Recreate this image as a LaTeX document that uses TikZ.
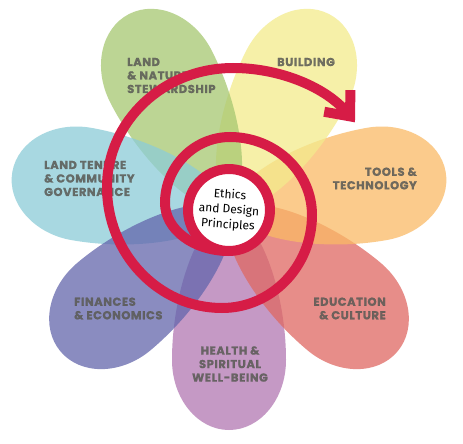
\documentclass[tikz,border=0pt]{standalone}
\usepackage{fontspec}
\usepackage{xcolor}
\usepackage{tikz}
\usetikzlibrary{positioning}
\usetikzlibrary{arrows.meta}
\newfontfamily\labelfont{Poppins}[LetterSpace=5, BoldFeatures={FakeBold=1.2}]
\newfontfamily\handfont{Fira Sans}
\definecolor{petalgreen}{RGB}{166,199,113}
\definecolor{petalyellow}{RGB}{243,235,140}
\definecolor{petalorange}{RGB}{250,186,102}
\definecolor{petalred}{RGB}{223,104,98}
\definecolor{petalpink}{RGB}{178,120,178}
\definecolor{petalviolet}{RGB}{99,102,172}
\definecolor{petalblue}{RGB}{140,204,215}
\definecolor{spiralred}{RGB}{214,28,70}
\definecolor{labelgray}{RGB}{90,90,85}
\pgfdeclarelayer{petallayer}
\pgfsetlayers{petallayer,main}
\newcommand{\petalpath}{(0,0) .. controls (8,-30) and (80,-57) .. (150,-57) arc[start angle=-90, end angle=90, x radius=70pt, y radius=57pt] .. controls (80,57) and (8,30) .. (0,0) -- cycle}
\tikzset{
    petal/.style = {fill opacity=0.75, draw=none},
    petaltext/.style = {inner sep=0pt, text=labelgray, text opacity=0.85, font=\labelfont\bfseries\fontsize{11.5}{13.5}\selectfont},
    spiral/.style = {draw=spiralred, line width=10pt},
    centre/.style = {circle, draw=spiralred, line width=10pt, fill=white, minimum size=82pt, inner sep=0pt, align=center, font=\handfont\fontsize{12}{15}\selectfont}
}

\begin{document}
\begin{tikzpicture}[x=1pt, y=1pt]
    \useasboundingbox (0,0) rectangle (463,-444);
    \begin{pgfonlayer}{petallayer}
        \fill [white] (0,0) rectangle (463,-444);
        \fill [petal, fill=petalpink, shift={(229,-210)}, rotate=270] \petalpath;
        \fill [petal, fill=petalred, shift={(229,-210)}, rotate=320] \petalpath;
        \fill [petal, fill=petalorange, shift={(229,-210)}, rotate=10] \petalpath;
        \fill [petal, fill=petalyellow, shift={(229,-210)}, rotate=63] \petalpath;
        \fill [petal, fill=petalgreen, shift={(229,-210)}, rotate=117] \petalpath;
        \fill [petal, fill=petalblue, shift={(229,-210)}, rotate=170] \petalpath;
        \fill [petal, fill=petalviolet, shift={(229,-210)}, rotate=220] \petalpath;
    \end{pgfonlayer}
    \node [petaltext, anchor=west, align=left] (1) at (127,-75.5) {LAND\\\& NATURE\\STEWARDSHIP};
    \node [petaltext] (2) at (306,-62) {BUILDING};
    \node [petaltext, anchor=east, align=right] (3) at (417,-178.5) {TOOLS \&\\TECHNOLOGY};
    \node [petaltext, anchor=east, align=right] (4) at (386,-308.5) {EDUCATION\\\& CULTURE};
    \node [petaltext, align=center] (5) at (230,-364) {HEALTH \&\\SPIRITUAL\\WELL-BEING};
    \node [petaltext, anchor=west, align=left] (6) at (74,-308.5) {FINANCES\\\& ECONOMICS};
    \node [petaltext, anchor=west, align=left] (7) at (44,-178.5) {LAND TENURE\\\& COMMUNITY\\GOVERNANCE};
    \draw [spiral, -{Straight Barb[length=20pt, width=34pt]}] (229,-251)
        arc[start angle=270, end angle=180, x radius=64pt, y radius=48pt]
        arc[start angle=180, end angle=90, x radius=65pt, y radius=66pt]
        arc[start angle=90, end angle=0, x radius=82pt, y radius=78pt]
        arc[start angle=0, end angle=-90, x radius=90pt, y radius=93pt]
        arc[start angle=-90, end angle=-180, x radius=115pt, y radius=121pt]
        arc[start angle=180, end angle=90, x radius=126pt, y radius=119pt]
        arc[start angle=90, end angle=35.6, x radius=150pt, y radius=130pt];
    \node [centre, rotate=-4] (0) at (229,-210) {Ethics\\and Design\\Principles};
\end{tikzpicture}
\end{document}
